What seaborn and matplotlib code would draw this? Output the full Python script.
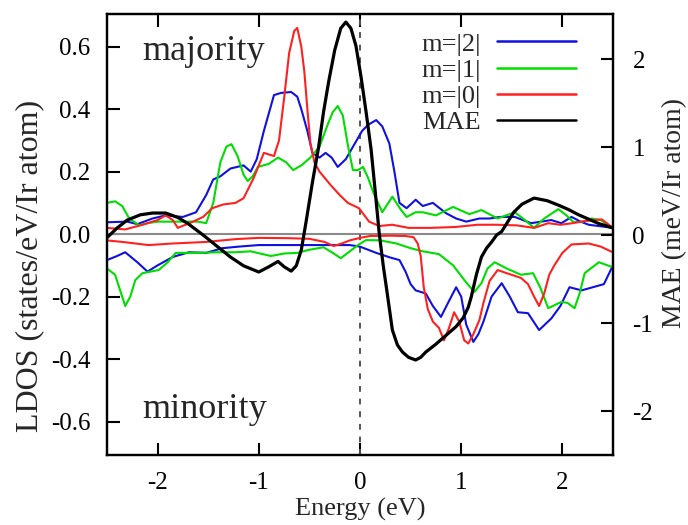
import matplotlib
matplotlib.use("Agg")
import matplotlib.pyplot as plt
import seaborn as sns

# ---------------- data ----------------
# majority (positive) LDOS
m2_maj_x = [-2.5, -2.3, -2.2, -2.05, -1.92, -1.75, -1.62, -1.52, -1.45, -1.38, -1.28, -1.15, -1.08, -1.02,
            -0.95, -0.85, -0.78, -0.68, -0.62, -0.58, -0.52, -0.47, -0.4, -0.34, -0.28, -0.22, -0.14, -0.06,
            0.02, 0.08, 0.16, 0.22, 0.29, 0.34, 0.39, 0.46, 0.55, 0.62, 0.72, 0.85, 0.95, 1.05, 1.18, 1.28,
            1.38, 1.53, 1.69, 1.79, 1.89, 1.99, 2.09, 2.18, 2.26, 2.38, 2.5]
m2_maj_y = [0.038, 0.04, 0.032, 0.05, 0.06, 0.055, 0.07, 0.125, 0.175, 0.185, 0.21, 0.22, 0.2, 0.24,
            0.33, 0.445, 0.452, 0.455, 0.44, 0.40, 0.33, 0.26, 0.245, 0.26, 0.245, 0.215, 0.24, 0.285,
            0.33, 0.35, 0.365, 0.345, 0.29, 0.2, 0.1, 0.083, 0.11, 0.09, 0.1, 0.067, 0.05, 0.04, 0.05, 0.05,
            0.055, 0.055, 0.035, 0.04, 0.045, 0.035, 0.055, 0.04, 0.03, 0.025, 0.02]

m1_maj_x = [-2.5, -2.42, -2.35, -2.28, -2.18, -2.1, -2.0, -1.8, -1.6, -1.52, -1.45, -1.38, -1.32, -1.27,
            -1.21, -1.15, -1.11, -1.06, -1.01, -0.9, -0.81, -0.73, -0.66, -0.58, -0.49, -0.4, -0.32, -0.27,
            -0.22, -0.17, -0.12, -0.07, -0.02, 0.03, 0.08, 0.13, 0.22, 0.32, 0.4, 0.46, 0.55, 0.62, 0.75,
            0.92, 1.08, 1.2, 1.36, 1.53, 1.63, 1.72, 1.82, 1.96, 2.04, 2.11, 2.2, 2.29, 2.38, 2.49]
m1_maj_y = [0.10, 0.105, 0.09, 0.05, 0.028, 0.035, 0.04, 0.04, 0.04, 0.035, 0.1, 0.23, 0.28, 0.288,
            0.25, 0.19, 0.17, 0.185, 0.215, 0.225, 0.245, 0.23, 0.205, 0.22, 0.245, 0.28, 0.35, 0.39,
            0.41, 0.38, 0.285, 0.205, 0.205, 0.215, 0.18, 0.135, 0.07, 0.12, 0.08, 0.055, 0.07, 0.07, 0.06,
            0.087, 0.064, 0.077, 0.05, 0.07, 0.045, 0.02, 0.05, 0.08, 0.06, 0.038, 0.04, 0.05, 0.045, 0.02]

m0_maj_x = [-2.5, -2.32, -2.15, -2.0, -1.92, -1.85, -1.8, -1.65, -1.55, -1.46, -1.35, -1.23, -1.15,
            -1.05, -0.95, -0.85, -0.8, -0.75, -0.7, -0.65, -0.62, -0.58, -0.55, -0.52, -0.49, -0.45,
            -0.4, -0.29, -0.2, -0.12, -0.01, 0.09, 0.19, 0.32, 0.48, 0.7, 0.95, 1.16, 1.35, 1.55, 1.72,
            1.86, 1.98, 2.1, 2.19, 2.3, 2.39, 2.5]
m0_maj_y = [0.02, 0.015, 0.03, 0.045, 0.06, 0.045, 0.02, 0.04, 0.055, 0.083, 0.095, 0.1, 0.115,
            0.18, 0.26, 0.25, 0.3, 0.435, 0.58, 0.65, 0.66, 0.6, 0.52, 0.4, 0.29, 0.23,
            0.2, 0.157, 0.125, 0.1, 0.083, 0.04, 0.026, 0.03, 0.02, 0.02, 0.023, 0.03, 0.03, 0.028, 0.02,
            0.035, 0.03, 0.035, 0.04, 0.045, 0.047, 0.02]

# minority (negative) LDOS
m2_min_x = [-2.5, -2.4, -2.32, -2.2, -2.1, -2.0, -1.85, -1.69, -1.52, -1.36, -1.2, -1.0, -0.7, -0.4,
            -0.1, 0.0, 0.16, 0.3, 0.39, 0.45, 0.5, 0.55, 0.65, 0.72, 0.8, 0.87, 0.95, 1.0, 1.05, 1.12,
            1.17, 1.22, 1.3, 1.4, 1.48, 1.56, 1.66, 1.77, 1.89, 1.98, 2.07, 2.19, 2.3, 2.41, 2.5]
m2_min_y = [-0.083, -0.07, -0.058, -0.09, -0.12, -0.1, -0.073, -0.058, -0.06, -0.045, -0.04, -0.035,
            -0.035, -0.035, -0.035, -0.04, -0.06, -0.075, -0.083, -0.12, -0.16, -0.18, -0.19, -0.23,
            -0.265, -0.22, -0.17, -0.2, -0.29, -0.345, -0.32, -0.28, -0.2, -0.157, -0.2, -0.25, -0.253,
            -0.307, -0.27, -0.23, -0.17, -0.18, -0.17, -0.16, -0.1]

m1_min_x = [-2.5, -2.42, -2.37, -2.32, -2.27, -2.22, -2.15, -1.99, -1.9, -1.82, -1.6, -1.4, -1.23,
            -1.08, -0.88, -0.75, -0.62, -0.5, -0.36, -0.27, -0.19, -0.1, -0.02, 0.06, 0.2, 0.36, 0.5,
            0.62, 0.78, 0.92, 1.05, 1.13, 1.2, 1.26, 1.33, 1.45, 1.59, 1.71, 1.78, 1.86, 1.99, 2.05,
            2.12, 2.17, 2.22, 2.36, 2.49]
m1_min_y = [-0.11, -0.13, -0.18, -0.23, -0.2, -0.147, -0.125, -0.115, -0.09, -0.06, -0.06, -0.058,
            -0.058, -0.055, -0.07, -0.062, -0.06, -0.05, -0.042, -0.06, -0.077, -0.055, -0.035, -0.019,
            -0.02, -0.03, -0.045, -0.055, -0.064, -0.1, -0.155, -0.185, -0.157, -0.11, -0.09, -0.11,
            -0.13, -0.125, -0.17, -0.237, -0.217, -0.22, -0.237, -0.19, -0.125, -0.09, -0.105]

m0_min_x = [-2.5, -2.32, -2.09, -1.85, -1.52, -1.23, -1.0, -0.7, -0.5, -0.35, -0.26, -0.18, -0.1,
            0.0, 0.1, 0.3, 0.45, 0.53, 0.57, 0.6, 0.63, 0.67, 0.72, 0.78, 0.83, 0.88, 0.93, 0.98, 1.03,
            1.07, 1.12, 1.18, 1.22, 1.28, 1.36, 1.45, 1.59, 1.66, 1.72, 1.77, 1.82, 1.87, 1.92, 2.0,
            2.09, 2.26, 2.38, 2.49]
m0_min_y = [-0.02, -0.026, -0.035, -0.03, -0.025, -0.016, -0.012, -0.013, -0.015, -0.025, -0.038,
            -0.03, -0.02, -0.012, -0.006, -0.005, -0.006, -0.01, -0.03, -0.07, -0.17, -0.24, -0.28,
            -0.3, -0.34, -0.3, -0.25, -0.28, -0.34, -0.35, -0.32, -0.275, -0.22, -0.15, -0.115, -0.125,
            -0.14, -0.16, -0.2, -0.23, -0.19, -0.13, -0.1, -0.06, -0.033, -0.03, -0.04, -0.057]

# MAE (right axis, meV/Ir atom)
mae_x = [-2.5, -2.4, -2.3, -2.17, -2.05, -1.92, -1.8, -1.7, -1.55, -1.41, -1.28, -1.15, -1.0, -0.9,
         -0.81, -0.75, -0.68, -0.63, -0.58, -0.53, -0.47, -0.41, -0.36, -0.31, -0.25, -0.19, -0.14,
         -0.09, -0.04, 0.01, 0.06, 0.11, 0.15, 0.19, 0.23, 0.26, 0.32, 0.37, 0.42, 0.48, 0.55, 0.6,
         0.65, 0.75, 0.85, 0.95, 1.02, 1.07, 1.1, 1.15, 1.2, 1.25, 1.3, 1.35, 1.4, 1.46, 1.52, 1.6,
         1.72, 1.85, 1.96, 2.06, 2.16, 2.26, 2.36, 2.5]
mae_y = [-0.03, 0.08, 0.17, 0.23, 0.25, 0.25, 0.2, 0.13, 0.0, -0.13, -0.25, -0.35, -0.42, -0.36,
         -0.30, -0.36, -0.41, -0.35, -0.17, 0.17, 0.6, 0.99, 1.4, 1.74, 2.1, 2.35, 2.42,
         2.35, 2.15, 1.8, 1.4, 0.97, 0.5, 0.02, -0.35, -0.59, -1.08, -1.25, -1.33, -1.39, -1.42, -1.39,
         -1.33, -1.24, -1.14, -1.04, -0.94, -0.82, -0.7, -0.45, -0.25, -0.15, -0.08, 0.0, 0.04, 0.15,
         0.26, 0.35, 0.42, 0.39, 0.34, 0.29, 0.23, 0.18, 0.13, 0.08]

left_ticks = [-0.6, -0.4, -0.2, 0.0, 0.2, 0.4, 0.6]
right_ticks = [-2, -1, 0, 1, 2]
x_ticks = [-2, -1, 0, 1, 2]
legend_labels = ["m=|2|", "m=|1|", "m=|0|", "MAE"]

# ---------------- styling ----------------
sns.set_theme(style="ticks")
plt.rcParams["font.family"] = ["Liberation Serif", "DejaVu Serif"]
plt.rcParams["axes.unicode_minus"] = False

BLUE, GREEN, RED, BLACK = "#1010e0", "#00dd00", "#ff2020", "#000000"

fig = plt.figure(figsize=(6.88, 5.25), dpi=100)
ax = fig.add_axes([0.1555, 0.1333, 0.7355, 0.8397])
ax2 = ax.twinx()

ax.axhline(0, color="#8a8a8a", lw=1.5, zorder=1)
ax.axvline(0, color="#555555", lw=1.4, ls=(0, (3, 3.5)), zorder=1)

lw = 1.5
for xs, ys, c in [(m2_maj_x, m2_maj_y, BLUE), (m2_min_x, m2_min_y, BLUE),
                  (m1_maj_x, m1_maj_y, GREEN), (m1_min_x, m1_min_y, GREEN),
                  (m0_maj_x, m0_maj_y, RED), (m0_min_x, m0_min_y, RED)]:
    sns.lineplot(x=xs, y=ys, ax=ax, color=c, lw=lw, estimator=None, sort=False, zorder=3)
sns.lineplot(x=mae_x, y=mae_y, ax=ax2, color=BLACK, lw=2.3, estimator=None, sort=False, zorder=4)

ax.set_xlim(-2.5, 2.5)
ax.set_ylim(-0.707, 0.704)
ax2.set_ylim(-2.5, 2.51)

ax.set_xticks(x_ticks)
ax.set_xticklabels([str(t) for t in x_ticks])
ax.set_yticks(left_ticks)
ax.set_yticklabels([f"{t:.1f}" for t in left_ticks])
ax2.set_yticks(right_ticks)
ax2.set_yticklabels([str(t) for t in right_ticks])

ax.tick_params(axis="x", which="both", direction="in", length=9, width=1.5,
               top=True, bottom=True, labelsize=18, pad=12, colors="black")
ax.tick_params(axis="y", direction="in", length=9, width=1.5, left=True, right=False,
               labelsize=18, pad=12, colors="black")
ax2.tick_params(axis="y", direction="in", length=9, width=1.5, right=True, left=False,
                labelsize=18, pad=14, colors="black")

for a in (ax, ax2):
    for s in a.spines.values():
        s.set_linewidth(1.6)
        s.set_color("black")
        s.set_visible(True)

ax.set_xlabel("Energy (eV)", fontsize=19, labelpad=3)
ax.set_ylabel("LDOS (states/eV/Ir atom)", fontsize=23)
ax2.set_ylabel("MAE (meV/Ir atom)", fontsize=20)
ax.yaxis.set_label_coords(-0.125, 0.43)
ax2.yaxis.set_label_coords(1.097, 0.55)

ax.text(-2.15, 0.585, "majority", fontsize=26, va="center", ha="left")
ax.text(-2.15, -0.56, "minority", fontsize=26, va="center", ha="left")

handles = [ax.lines[2], ax.lines[4], ax.lines[6], ax2.lines[0]]
leg = ax2.legend(handles, legend_labels, loc="upper right", bbox_to_anchor=(0.958, 0.995),
                 frameon=False, fontsize=19, markerfirst=False, handlelength=3.0,
                 handletextpad=0.6, labelspacing=0.1, borderaxespad=0.2)
for h in leg.legend_handles:
    h.set_linewidth(1.8)

fig.savefig("out.png", dpi=100)
